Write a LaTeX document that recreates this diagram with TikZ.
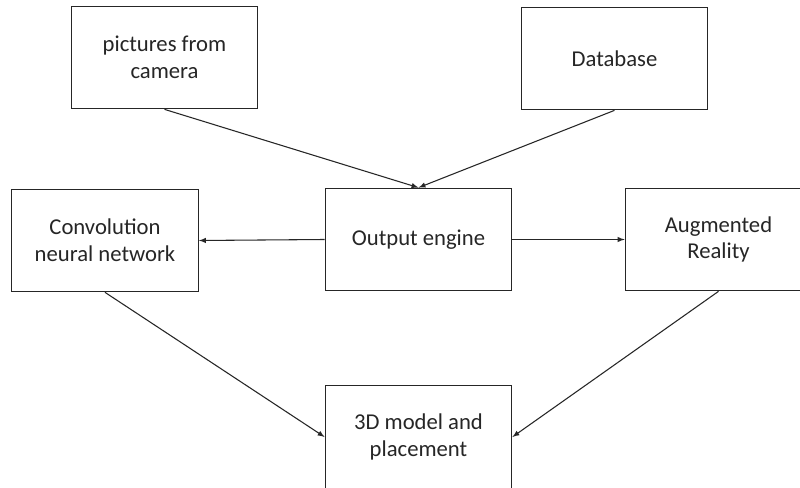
\documentclass[tikz,border=0pt]{standalone}
\usepackage{fontspec}
\setmainfont{Carlito}
\usepackage{tikz}
\usetikzlibrary{arrows}

\begin{document}
\begin{tikzpicture}[x=0.75pt, y=-0.75pt,
  block/.style={draw=black!85, line width=0.8pt, minimum width=140pt, minimum height=77pt,
    align=center, font=\fontsize{17}{20}\selectfont, text=black!85, inner sep=0pt}]
  \clip (0,0) rectangle (800,488);
  \fill[white] (0,0) rectangle (800,488);

  \node[block] (cam)   at (164.5, 57.5) {pictures from\\camera};
  \node[block] (db)    at (614.5, 58.5) {Database};
  \node[block] (cnn)   at (105, 240.5)  {Convolution\\neural network};
  \node[block] (eng)   at (418.5, 239.5) {Output engine};
  \node[block] (ar)    at (718.5, 239.5) {Augmented\\Reality};
  \node[block] (model) at (418.5, 437)  {3D model and\\placement};

%  \path[-stealth]
  \path[-latex, black!85, line width=0.8pt]
  (cam.south) edge (eng.north)
  (db.south)  edge (eng.north)
  (eng.west)  edge (cnn.east)
  (eng.east)  edge (ar.west)
  (cnn.south) edge (model.west)
  (ar.south)  edge (model.east);
\end{tikzpicture}
\end{document}
